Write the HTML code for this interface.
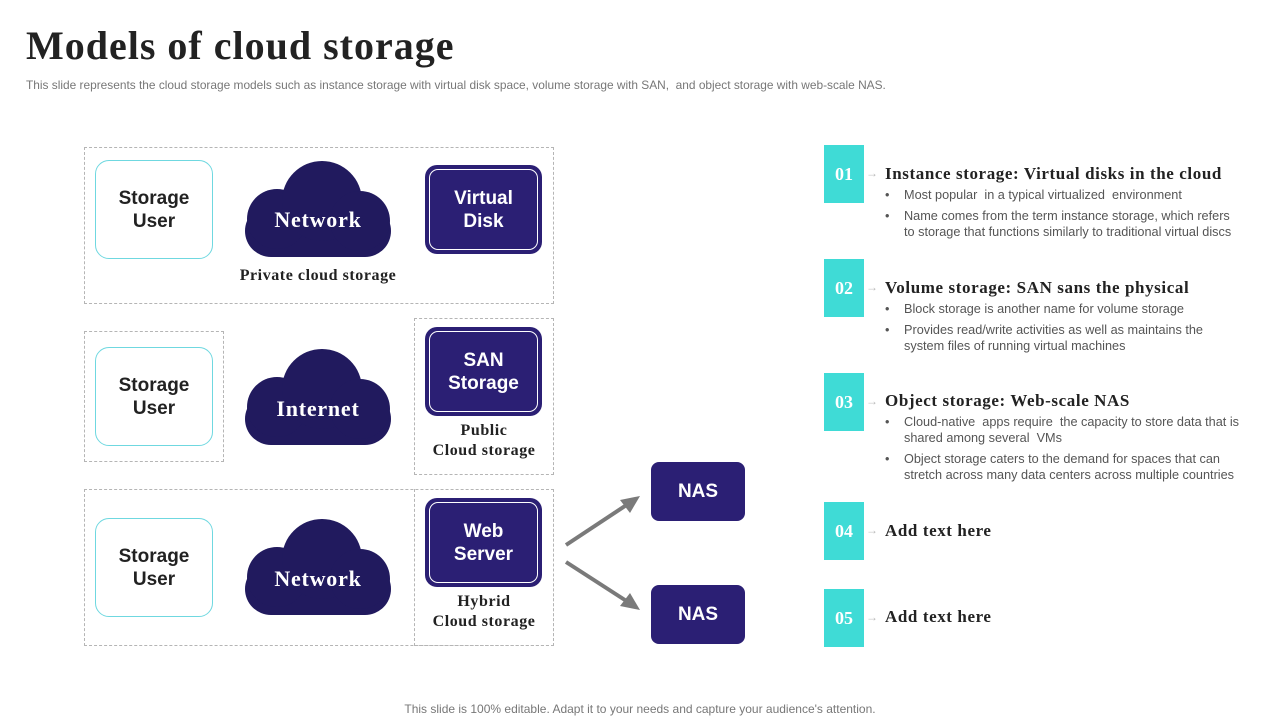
<!DOCTYPE html>
<html><head><meta charset="utf-8"><style>
*{margin:0;padding:0;box-sizing:border-box}
body{width:1280px;height:720px;background:#fff;position:relative;overflow:hidden;font-family:"Liberation Sans",sans-serif}
.a{position:absolute}
.ser{font-family:"Liberation Serif",serif;font-weight:bold;letter-spacing:0.035em}
.dash{position:absolute;border:1px dashed #b5b5b5}
.user{position:absolute;border:1px solid #6fd8e0;border-radius:14px;display:flex;align-items:center;justify-content:center;text-align:center;font-weight:bold;font-size:19px;color:#222;line-height:23px}
.nb{position:absolute;background:#2b1f74;border-radius:12px;display:flex;align-items:center;justify-content:center;text-align:center;font-weight:bold;font-size:19px;color:#fff;line-height:23px}
.nb i{position:absolute;left:4px;top:4px;right:4px;bottom:4px;border:1.5px solid #fff;border-radius:9px}
.lbl{position:absolute;text-align:center;font-size:16px;color:#222;line-height:20px;white-space:nowrap}
.sq{position:absolute;left:824px;width:40px;height:58px;background:#3fdbd6;color:#fff;font-family:"Liberation Serif",serif;font-weight:bold;font-size:18px;display:flex;align-items:center;justify-content:center}
.ar{position:absolute;left:866px;color:#bbb;font-size:12px}
.h{position:absolute;left:885px;font-size:17px;color:#222;white-space:nowrap}
.b{position:absolute;left:904px;font-size:12.7px;color:#555;line-height:16px;width:338px}
.b:before{content:"•";position:absolute;left:-19px}
</style></head><body>
<div class="a ser" style="left:26px;top:22px;font-size:40px;color:#222;letter-spacing:1px">Models of cloud storage</div>
<div class="a" style="left:26px;top:78px;font-size:11.9px;color:#777;white-space:nowrap">This slide represents the cloud storage models such as instance storage with virtual disk space, volume storage with SAN,&nbsp; and object storage with web-scale NAS.</div>

<div class="dash" style="left:84px;top:147px;width:470px;height:157px"></div>
<div class="dash" style="left:84px;top:331px;width:140px;height:131px"></div>
<div class="dash" style="left:414px;top:318px;width:140px;height:157px"></div>
<div class="dash" style="left:84px;top:489px;width:470px;height:157px"></div>
<div class="dash" style="left:414px;top:489px;width:140px;height:157px;border-top:none"></div>

<div class="user" style="left:95px;top:160px;width:118px;height:99px">Storage<br>User</div>
<div class="user" style="left:95px;top:347px;width:118px;height:99px">Storage<br>User</div>
<div class="user" style="left:95px;top:518px;width:118px;height:99px">Storage<br>User</div>

<svg class="a" style="left:0;top:0" width="1280" height="720">
<defs><g id="cl"><rect x="0" y="44" width="146" height="52" rx="26"/><circle cx="32" cy="58" r="30"/><circle cx="77" cy="40" r="40"/><circle cx="115" cy="60" r="30"/></g></defs>
<use href="#cl" x="245" y="161" fill="#211a5e"/>
<use href="#cl" x="245" y="349" fill="#211a5e"/>
<use href="#cl" x="245" y="519" fill="#211a5e"/>
<g stroke="#7a7a7a" stroke-width="4" fill="#7a7a7a">
<line x1="566" y1="545" x2="628" y2="504"/><polygon points="640,496 620,500 630,513" stroke="none"/>
<line x1="566" y1="562" x2="628" y2="602"/><polygon points="640,610 630,593 620,606" stroke="none"/>
</g>
</svg>
<div class="a ser" style="left:235px;top:207px;width:166px;text-align:center;color:#fff;font-size:22px">Network</div>
<div class="a ser" style="left:235px;top:396px;width:166px;text-align:center;color:#fff;font-size:22px">Internet</div>
<div class="a ser" style="left:235px;top:566px;width:166px;text-align:center;color:#fff;font-size:22px">Network</div>

<div class="nb" style="left:425px;top:165px;width:117px;height:89px"><i></i>Virtual<br>Disk</div>
<div class="nb" style="left:425px;top:327px;width:117px;height:89px"><i></i>SAN<br>Storage</div>
<div class="nb" style="left:425px;top:498px;width:117px;height:89px"><i></i>Web<br>Server</div>
<div class="nb" style="left:651px;top:462px;width:94px;height:59px;border-radius:8px">NAS</div>
<div class="nb" style="left:651px;top:585px;width:94px;height:59px;border-radius:8px">NAS</div>

<div class="lbl ser" style="left:200px;top:266px;width:236px">Private cloud storage</div>
<div class="lbl ser" style="left:404px;top:421px;width:160px">Public<br>Cloud storage</div>
<div class="lbl ser" style="left:404px;top:592px;width:160px">Hybrid<br>Cloud storage</div>

<div class="sq" style="top:145px">01</div><div class="ar" style="top:166px">→</div>
<div class="h ser" style="top:164px">Instance storage: Virtual disks in the cloud</div>
<div class="b" style="top:187px">Most popular&nbsp; in a typical virtualized&nbsp; environment</div>
<div class="b" style="top:208px">Name comes from the term instance storage, which refers to storage that functions similarly to traditional virtual discs</div>

<div class="sq" style="top:259px">02</div><div class="ar" style="top:280px">→</div>
<div class="h ser" style="top:278px">Volume storage: SAN sans the physical</div>
<div class="b" style="top:301px">Block storage is another name for volume storage</div>
<div class="b" style="top:322px">Provides read/write activities as well as maintains the system files of running virtual machines</div>

<div class="sq" style="top:373px">03</div><div class="ar" style="top:394px">→</div>
<div class="h ser" style="top:391px">Object storage: Web-scale NAS</div>
<div class="b" style="top:414px">Cloud-native&nbsp; apps require&nbsp; the capacity to store data that is shared among several&nbsp; VMs</div>
<div class="b" style="top:451px">Object storage caters to the demand for spaces that can stretch across many data centers across multiple countries</div>

<div class="sq" style="top:502px">04</div><div class="ar" style="top:523px">→</div>
<div class="h ser" style="top:521px">Add text here</div>
<div class="sq" style="top:589px">05</div><div class="ar" style="top:610px">→</div>
<div class="h ser" style="top:607px">Add text here</div>

<div class="a" style="left:0;width:1280px;top:702px;text-align:center;font-size:12px;color:#777">This slide is 100% editable. Adapt it to your needs and capture your audience's attention.</div>
</body></html>
